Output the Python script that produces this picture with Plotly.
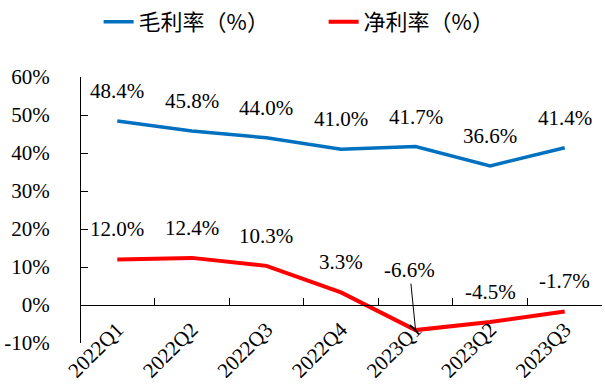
import plotly.graph_objects as go

# Quarterly margins (%)
quarters = ["2022Q1", "2022Q2", "2022Q3", "2022Q4", "2023Q1", "2023Q2", "2023Q3"]
gross_margin = [48.4, 45.8, 44.0, 41.0, 41.7, 36.6, 41.4]
net_margin = [12.0, 12.4, 10.3, 3.3, -6.6, -4.5, -1.7]
y_ticks = [-10, 0, 10, 20, 30, 40, 50, 60]

BLUE = "#0070C0"
RED = "#FF0000"
SERIF = "Times New Roman, Liberation Serif, serif"
CJK = "Noto Sans CJK SC, sans-serif"

Y_MIN, Y_MAX = -10, 60

fig = go.Figure()
fig.add_trace(go.Scatter(
    x=quarters, y=gross_margin, mode="lines", name="毛利率（%）",
    line=dict(color=BLUE, width=3.5), xaxis="x", yaxis="y",
))
fig.add_trace(go.Scatter(
    x=quarters, y=net_margin, mode="lines", name="净利率（%）",
    line=dict(color=RED, width=4), xaxis="x", yaxis="y",
))

# value labels above each point
annotations = []
for series in (gross_margin, net_margin):
    for q, v in zip(quarters, series):
        if q == "2023Q1" and v < 0:
            # callout with leader line
            annotations.append(dict(
                x=q, y=v, xref="x", yref="y", text=f"{v:.1f}%",
                showarrow=True, arrowhead=0, arrowwidth=1, arrowcolor="black",
                ax=-6, ay=-60, standoff=0,
                font=dict(family=SERIF, size=21, color="black"),
            ))
        else:
            annotations.append(dict(
                x=q, y=v, xref="x", yref="y", text=f"{v:.1f}%",
                showarrow=False, yshift=30, yanchor="middle",
                font=dict(family=SERIF, size=21, color="black"),
            ))

zero_pos = (0 - Y_MIN) / (Y_MAX - Y_MIN)

fig.update_layout(
    width=605, height=387,
    margin=dict(l=80, r=3, t=77, b=44, autoexpand=False),
    paper_bgcolor="white", plot_bgcolor="white",
    showlegend=True,
    legend=dict(
        orientation="h", xref="container", yref="container",
        x=0.163, xanchor="left", y=1 - 22 / 387, yanchor="middle",
        entrywidth=180, entrywidthmode="pixels",
        font=dict(family=CJK, size=22, color="black"),
        bgcolor="rgba(0,0,0,0)",
    ),
    xaxis=dict(
        type="category", categoryorder="array", categoryarray=quarters,
        anchor="free", position=zero_pos, automargin=False,
        showline=True, linecolor="black", linewidth=1,
        ticks="inside", ticklen=7, tickcolor="black", tickwidth=1,
        tickson="boundaries",
        tickangle=-45, ticklabelstandoff=3,
        tickfont=dict(family=SERIF, size=21, color="black"),
        showgrid=False, zeroline=False,
        range=[-0.5, len(quarters) - 0.5],
    ),
    yaxis=dict(
        anchor="free", position=0, automargin=False,
        range=[Y_MIN, Y_MAX], tickvals=y_ticks,
        ticktext=[f"{t}%" for t in y_ticks],
        showline=True, linecolor="black", linewidth=1,
        ticks="inside", ticklen=7, tickcolor="black", tickwidth=1,
        ticklabelstandoff=26,
        tickfont=dict(family=SERIF, size=21, color="black"),
        showgrid=False, zeroline=False,
    ),
    annotations=annotations,
)

fig.write_html("out.html")
